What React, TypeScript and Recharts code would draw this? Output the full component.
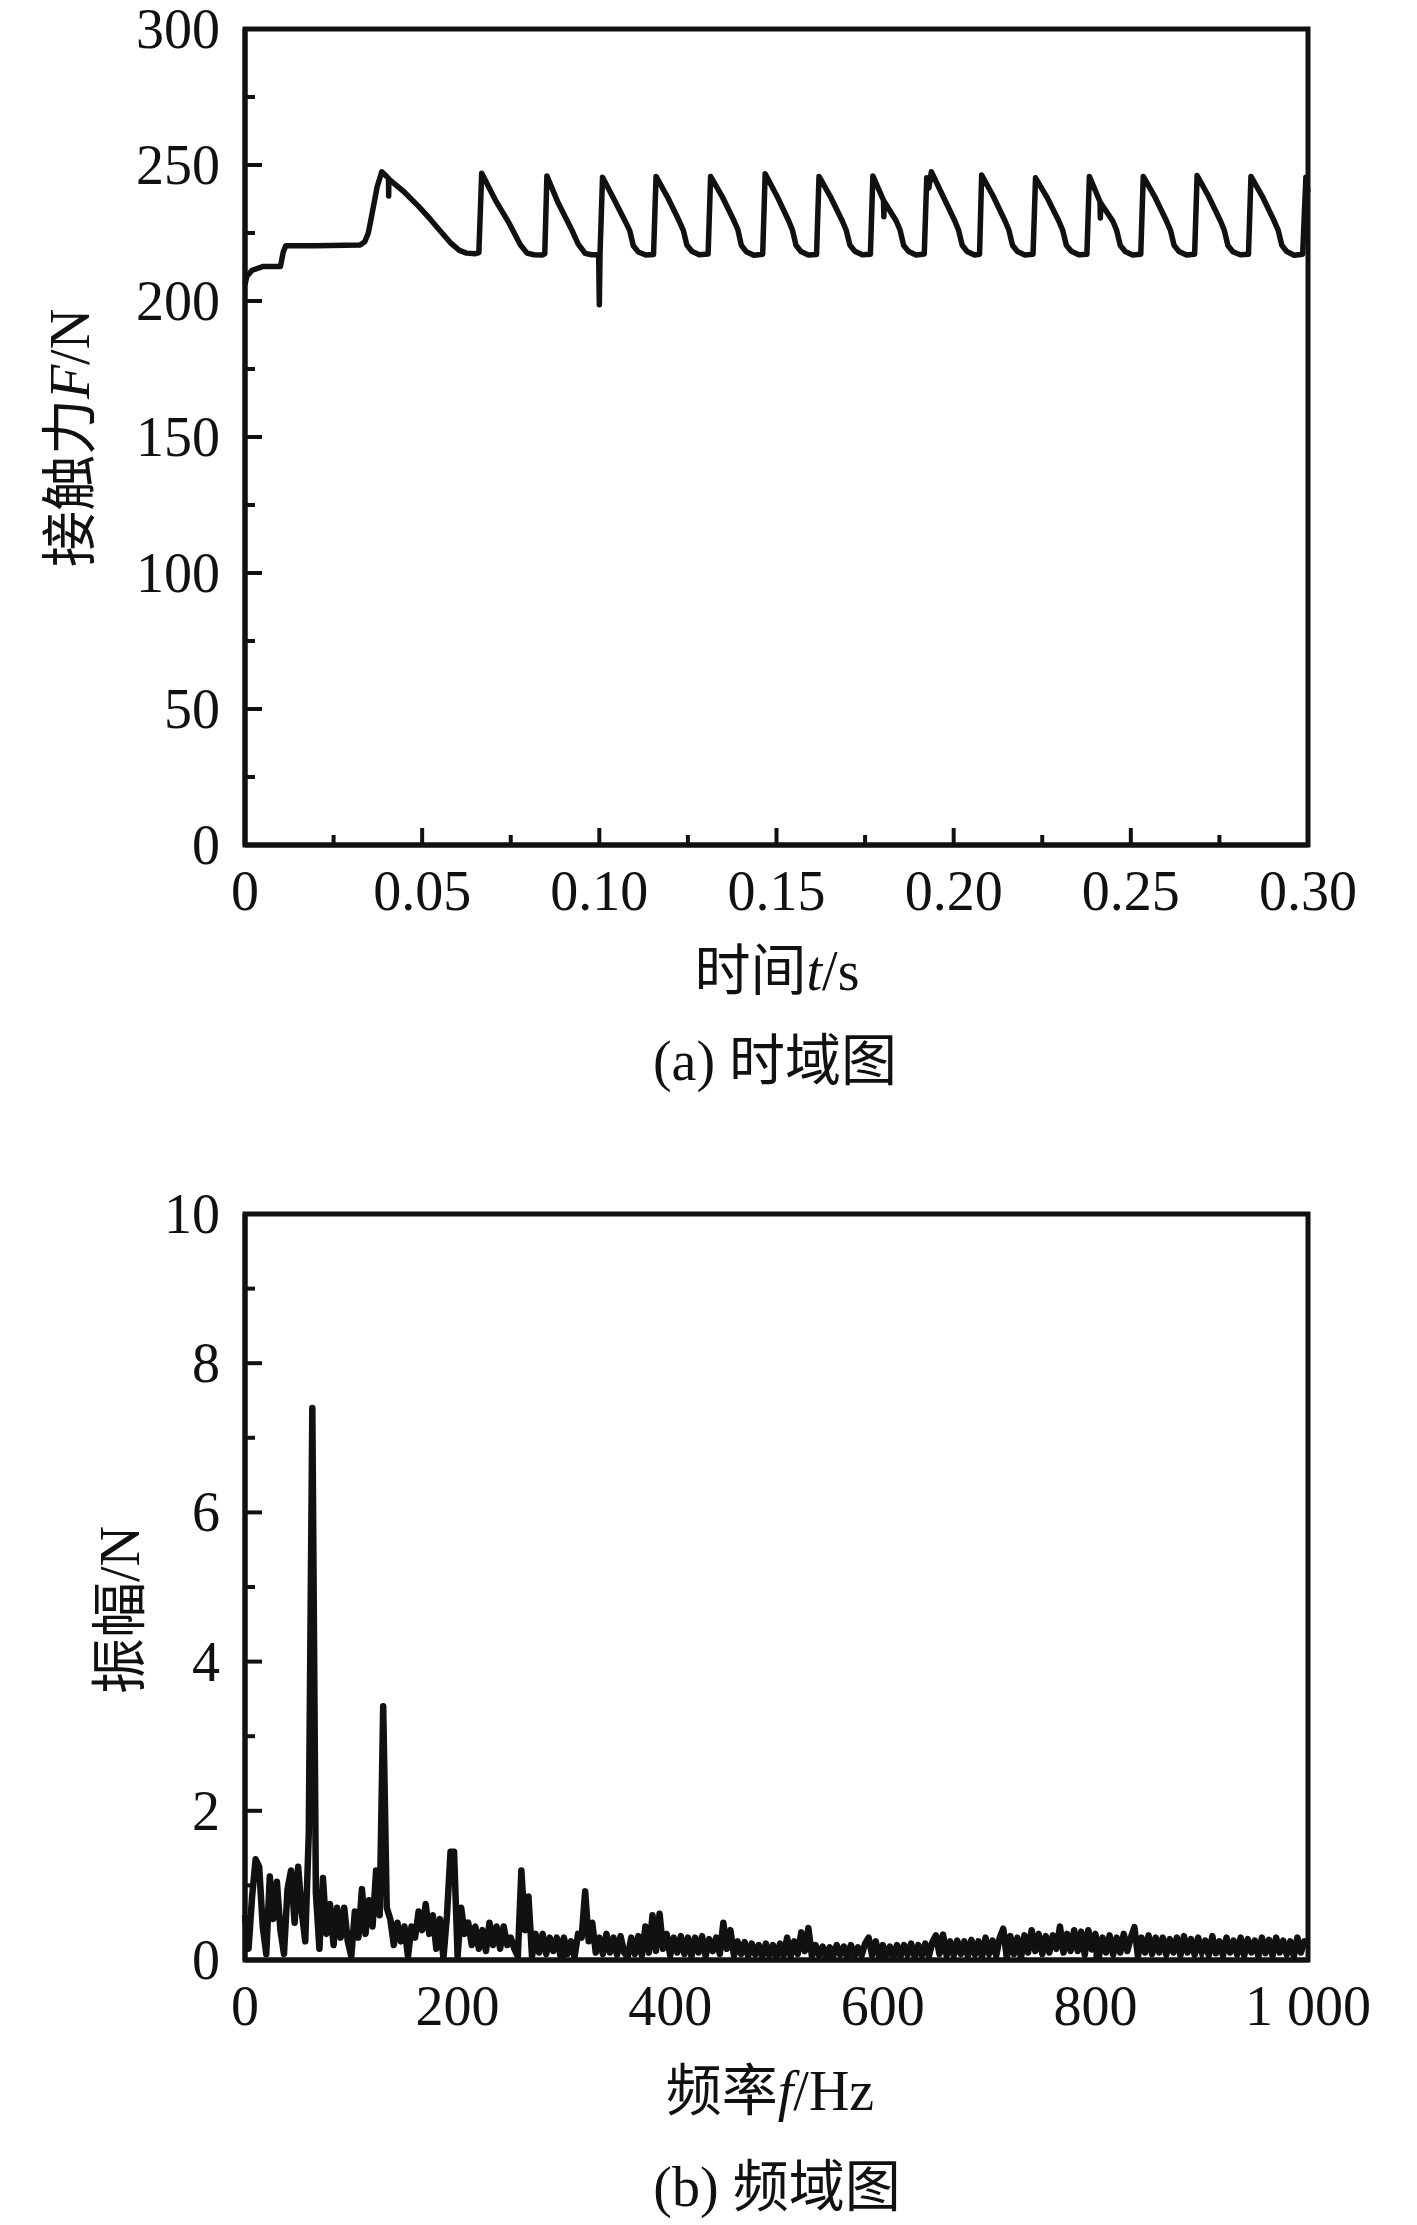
import React from "react"
import { LineChart, Line, XAxis, YAxis } from "recharts"

// (a) contact force in the time domain
const timeS = [
  0, 0.0005, 0.002, 0.0052, 0.01, 0.0108, 0.0115, 0.02, 0.0325, 0.0338, 0.0348, 0.0357, 0.0373, 0.0386,
  0.04, 0.0405, 0.04055, 0.0406, 0.045, 0.049, 0.0524, 0.0556, 0.058, 0.0605, 0.0625, 0.065, 0.066,
  0.0668, 0.0707, 0.0745, 0.0777, 0.0796, 0.0815, 0.084, 0.0846,
  0.0852, 0.0884, 0.0922, 0.094, 0.096, 0.0978, 0.0998, 0.1, 0.1002,
  0.1009, 0.1041, 0.1075, 0.1086, 0.1096, 0.111, 0.1131, 0.1153,
  0.116, 0.1192, 0.1226, 0.1237, 0.1247, 0.1261, 0.1282, 0.1307,
  0.1314, 0.1346, 0.138, 0.1391, 0.1401, 0.1415, 0.1436, 0.1461,
  0.1468, 0.15, 0.1534, 0.1545, 0.1555, 0.1569, 0.159, 0.1613,
  0.162, 0.1652, 0.1686, 0.1697, 0.1707, 0.1721, 0.1742, 0.1765,
  0.1772, 0.1802, 0.1803, 0.1804, 0.1838, 0.1849, 0.1859, 0.1873, 0.1894, 0.1917,
  0.1924, 0.193, 0.1937, 0.1969, 0.2003, 0.2014, 0.2024, 0.2038, 0.2059, 0.2073,
  0.2079, 0.2111, 0.2145, 0.2156, 0.2166, 0.218, 0.2201, 0.2224,
  0.2231, 0.2263, 0.2297, 0.2308, 0.2318, 0.2332, 0.2353, 0.2376,
  0.2383, 0.2413, 0.2414, 0.2415, 0.2449, 0.246, 0.247, 0.2484, 0.2505, 0.2528,
  0.2535, 0.2567, 0.2601, 0.2612, 0.2622, 0.2636, 0.2657, 0.268,
  0.2687, 0.2719, 0.2753, 0.2764, 0.2774, 0.2788, 0.2809, 0.2832,
  0.2839, 0.2871, 0.2905, 0.2916, 0.2926, 0.294, 0.2961, 0.2985,
  0.2994, 0.3,
]
const forceN = [
  206, 209, 211.3, 212.7, 212.7, 218, 220.3, 220.3, 220.6, 221.8, 225, 231, 242, 247.5,
  245.8, 245, 238.6, 244.8, 240, 234.8, 229.9, 225, 221.4, 218.6, 217.6, 217.4, 217.8,
  247, 237, 228.7, 220.7, 217.6, 217, 216.9, 217.4,
  246, 236, 226.2, 221, 217.5, 217, 217, 198.6, 217.6,
  245.5, 237.5, 228.8, 225.8, 220.3, 218, 216.9, 217.1,
  245.8, 238.3, 229.2, 226, 220.6, 218.3, 217, 217.3,
  245.8, 238.6, 229.5, 226.2, 220.4, 218.1, 216.8, 217.2,
  246.8, 238.9, 229.6, 226.1, 220.5, 218.2, 216.9, 217.1,
  245.8, 238.4, 229.3, 225.9, 220.6, 218.3, 217, 217.2,
  246, 237, 231, 236.6, 229.4, 226, 220.4, 218.2, 216.9, 217.3,
  245.3, 241.5, 247.5, 238.8, 229.5, 226, 220.5, 218.2, 216.9, 217.2,
  246.3, 238.7, 229.4, 226, 220.5, 218.2, 216.9, 217.2,
  245.3, 238.2, 229.3, 225.9, 220.5, 218.3, 217, 217.2,
  245.8, 236.5, 230.5, 236, 229.4, 226, 220.5, 218.2, 216.9, 217.2,
  245.8, 238.5, 229.3, 226, 220.5, 218.2, 216.9, 217.2,
  246.1, 238.6, 229.4, 225.9, 220.4, 218.1, 217, 217.2,
  245.8, 238.5, 229.3, 226, 220.5, 218.2, 216.8, 217.2,
  245.5, 240,
]

// (b) amplitude spectrum, one value per FFT bin (0.3 s record -> 10/3 Hz per bin)
const FREQ_STEP = 10 / 3
const amplitudeN = [
  0.6, 0.15, 0.85, 1.35, 1.25, 0.45, 0.08, 1.12, 0.55, 1.05,
  0.4, 0.08, 0.95, 1.2, 0.5, 1.25, 0.65, 0.25, 1.7, 7.4,
  0.9, 0.15, 1.1, 0.35, 0.75, 0.2, 0.7, 0.3, 0.7, 0.25,
  0.05, 0.65, 0.3, 0.95, 0.35, 0.8, 0.45, 1.2, 0.6, 3.4,
  0.7, 0.55, 0.2, 0.5, 0.25, 0.45, 0.05, 0.45, 0.3, 0.65,
  0.4, 0.75, 0.35, 0.6, 0.15, 0.55, 0.02, 0.6, 1.45, 1.45,
  0.05, 0.7, 0.35, 0.5, 0.2, 0.45, 0.15, 0.4, 0.12, 0.5,
  0.2, 0.45, 0.15, 0.45, 0.2, 0.3, 0.15, 0.05, 1.2, 0.4,
  0.85, 0.05, 0.35, 0.1, 0.35, 0.08, 0.3, 0.12, 0.3, 0.06,
  0.3, 0.08, 0.25, 0.04, 0.35, 0.3, 0.92, 0.25, 0.5, 0.1,
  0.3, 0.08, 0.35, 0.1, 0.3, 0.07, 0.32, 0.1, 0.04, 0.3,
  0.08, 0.32, 0.06, 0.45, 0.1, 0.6, 0.12, 0.62, 0.15, 0.35,
  0.06, 0.3, 0.1, 0.32, 0.08, 0.3, 0.05, 0.3, 0.1, 0.32,
  0.05, 0.28, 0.12, 0.3, 0.08, 0.5, 0.15, 0.4, 0.06, 0.25,
  0.08, 0.24, 0.05, 0.22, 0.07, 0.2, 0.04, 0.22, 0.06, 0.2,
  0.03, 0.22, 0.06, 0.3, 0.05, 0.25, 0.08, 0.37, 0.12, 0.43,
  0.05, 0.2, 0.06, 0.18, 0.03, 0.17, 0.05, 0.2, 0.07, 0.18,
  0.03, 0.2, 0.05, 0.17, 0.06, 0.22, 0.3, 0.06, 0.25, 0.05,
  0.2, 0.06, 0.18, 0.03, 0.2, 0.05, 0.2, 0.07, 0.22, 0.04,
  0.2, 0.06, 0.22, 0.05, 0.24, 0.33, 0.08, 0.34, 0.06, 0.25,
  0.06, 0.26, 0.08, 0.25, 0.05, 0.27, 0.07, 0.25, 0.04, 0.3,
  0.08, 0.26, 0.06, 0.3, 0.42, 0.03, 0.32, 0.08, 0.3, 0.03,
  0.33, 0.1, 0.4, 0.12, 0.35, 0.08, 0.32, 0.1, 0.33, 0.15,
  0.45, 0.1, 0.35, 0.12, 0.4, 0.12, 0.38, 0.07, 0.4, 0.14,
  0.35, 0.05, 0.3, 0.1, 0.33, 0.07, 0.3, 0.1, 0.35, 0.12,
  0.3, 0.44, 0.05, 0.3, 0.1, 0.33, 0.08, 0.3, 0.1, 0.3,
  0.07, 0.28, 0.1, 0.3, 0.06, 0.32, 0.1, 0.28, 0.07, 0.3,
  0.1, 0.26, 0.06, 0.32, 0.09, 0.25, 0.06, 0.3, 0.1, 0.26,
  0.07, 0.3, 0.06, 0.28, 0.1, 0.26, 0.05, 0.3, 0.09, 0.27,
  0.06, 0.3, 0.1, 0.26, 0.07, 0.25, 0.05, 0.3, 0.1, 0.25,
  0.2,
]

// ticks (minor + major); labels only on the major ones
const timeTicks = [0, 0.025, 0.05, 0.075, 0.1, 0.125, 0.15, 0.175, 0.2, 0.225, 0.25, 0.275, 0.3]
const forceTicks = [0, 25, 50, 75, 100, 125, 150, 175, 200, 225, 250, 275, 300]
const freqTicks = [0, 100, 200, 300, 400, 500, 600, 700, 800, 900, 1000]
const ampTicks = [0, 1, 2, 3, 4, 5, 6, 7, 8, 9, 10]

const FONT = "'Liberation Serif', 'Times New Roman', 'Noto Sans CJK SC', serif"
const INK = "#111"
const FS = 56

const PLOT_L = 245
const PLOT_R = 1308
const TOP_A = 29
const BOT_A = 845
const TOP_B = 1214
const BOT_B = 1960

const frameLine = { stroke: INK, strokeWidth: 5 }

const isMajor = (v: number, step: number) => Math.abs(v / step - Math.round(v / step)) < 1e-6

function makeXTick(bottom: number, step: number, fmt: (v: number) => string) {
  return (props: any) => {
    const { x, payload } = props
    const major = isMajor(payload.value, step)
    return (
      <g>
        <line x1={x} x2={x} y1={bottom} y2={bottom - (major ? 17 : 10)} stroke={INK} strokeWidth={4} />
        {major && (
          <text x={x} y={bottom + 65} textAnchor="middle" fontFamily={FONT} fontSize={FS} fill={INK}>
            {fmt(payload.value)}
          </text>
        )}
      </g>
    )
  }
}

function makeYTick(step: number) {
  return (props: any) => {
    const { y, payload } = props
    const major = isMajor(payload.value, step)
    return (
      <g>
        <line x1={PLOT_L} x2={PLOT_L + (major ? 17 : 10)} y1={y} y2={y} stroke={INK} strokeWidth={4} />
        {major && (
          <text x={PLOT_L - 25} y={y + 19} textAnchor="end" fontFamily={FONT} fontSize={FS} fill={INK}>
            {payload.value}
          </text>
        )}
      </g>
    )
  }
}

function TimeChart() {
  const data = timeS.map((t, i) => ({ t, force: forceN[i] }))
  const h = 1110
  return (
    <LineChart width={1417} height={h} data={data} margin={{ top: TOP_A, right: 1417 - PLOT_R, left: 0, bottom: 0 }}>
      <XAxis
        xAxisId="b"
        dataKey="t"
        type="number"
        domain={[0, 0.3]}
        ticks={timeTicks}
        interval={0}
        height={h - BOT_A}
        axisLine={frameLine}
        tickLine={false}
        tick={makeXTick(BOT_A, 0.05, (v) => (v === 0 ? "0" : v.toFixed(2)))}
      />
      <XAxis xAxisId="t" orientation="top" dataKey="t" type="number" domain={[0, 0.3]} height={0} tick={false} tickLine={false} axisLine={frameLine} />
      <YAxis
        yAxisId="l"
        type="number"
        domain={[0, 300]}
        ticks={forceTicks}
        interval={0}
        width={PLOT_L}
        axisLine={frameLine}
        tickLine={false}
        tick={makeYTick(50)}
      />
      <YAxis yAxisId="r" orientation="right" type="number" domain={[0, 300]} width={0} tick={false} tickLine={false} axisLine={frameLine} />
      <Line
        xAxisId="b"
        yAxisId="l"
        type="linear"
        dataKey="force"
        stroke={INK}
        strokeWidth={5.5}
        strokeLinejoin="round"
        dot={false}
        isAnimationActive={false}
      />
    </LineChart>
  )
}

function SpectrumChart() {
  const data = amplitudeN.map((a, i) => ({ f: i * FREQ_STEP, a }))
  const h = 1117
  return (
    <LineChart width={1417} height={h} data={data} margin={{ top: TOP_B - 1110, right: 1417 - PLOT_R, left: 0, bottom: 0 }}>
      <XAxis
        xAxisId="b"
        dataKey="f"
        type="number"
        domain={[0, 1000]}
        ticks={freqTicks}
        interval={0}
        height={1110 + h - BOT_B}
        axisLine={frameLine}
        tickLine={false}
        tick={makeXTick(BOT_B - 1110, 200, (v) => (v === 1000 ? "1 000" : String(v)))}
      />
      <XAxis xAxisId="t" orientation="top" dataKey="f" type="number" domain={[0, 1000]} height={0} tick={false} tickLine={false} axisLine={frameLine} />
      <YAxis
        yAxisId="l"
        type="number"
        domain={[0, 10]}
        ticks={ampTicks}
        interval={0}
        width={PLOT_L}
        axisLine={frameLine}
        tickLine={false}
        tick={makeYTick(2)}
      />
      <YAxis yAxisId="r" orientation="right" type="number" domain={[0, 10]} width={0} tick={false} tickLine={false} axisLine={frameLine} />
      <Line
        xAxisId="b"
        yAxisId="l"
        type="linear"
        dataKey="a"
        stroke={INK}
        strokeWidth={6.5}
        strokeLinejoin="round"
        dot={false}
        isAnimationActive={false}
      />
    </LineChart>
  )
}

function Titles() {
  const t = { fontFamily: FONT, fontSize: FS, fill: INK, textAnchor: "middle" as const }
  const box = { fill: "none", stroke: INK, strokeWidth: 5 }
  return (
    <svg width={1417} height={2225} style={{ position: "absolute", left: 0, top: 0, pointerEvents: "none" }}>
      {/* plot frames */}
      <rect {...box} x={PLOT_L} y={TOP_A} width={PLOT_R - PLOT_L} height={BOT_A - TOP_A} />
      <rect {...box} x={PLOT_L} y={TOP_B} width={PLOT_R - PLOT_L} height={BOT_B - TOP_B} />
      <text {...t} x={70} y={438} dy={19} transform="rotate(-90 70 438)">
        接触力<tspan fontStyle="italic">F</tspan>/N
      </text>
      <text {...t} x={777} y={990}>
        时间<tspan fontStyle="italic">t</tspan>/s
      </text>
      <text {...t} x={775} y={1080}>
        (a) 时域图
      </text>
      <text {...t} x={120} y={1610} dy={19} transform="rotate(-90 120 1610)">
        振幅/N
      </text>
      <text {...t} x={770} y={2110}>
        频率<tspan fontStyle="italic">f</tspan>/Hz
      </text>
      <text {...t} x={777} y={2206}>
        (b) 频域图
      </text>
    </svg>
  )
}

export default function App() {
  return (
    <div style={{ position: "absolute", left: 0, top: 0, width: 1417, height: 2225, background: "#fff" }}>
      <div style={{ position: "absolute", left: 0, top: 0 }}>
        <TimeChart />
      </div>
      <div style={{ position: "absolute", left: 0, top: 1110 }}>
        <SpectrumChart />
      </div>
      <Titles />
    </div>
  )
}
